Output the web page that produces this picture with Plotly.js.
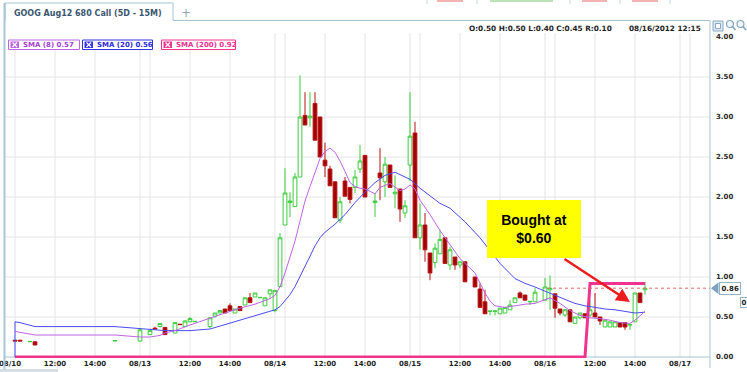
<!DOCTYPE html>
<html><head><meta charset="utf-8">
<script src="https://cdn.plot.ly/plotly-3.0.1.min.js"></script>
<style>html,body{margin:0;padding:0;background:#fff;}#chart{width:747px;height:372px;}</style>
</head><body><div id="chart"></div>
<script>
// ---------- data ----------
const chartTitle = 'GOOG Aug12 680 Call (5D - 15M)';
const days = ['08/10','08/13','08/14','08/15','08/16','08/17'];

const barTimes = [
'08/10 10:00','08/10 10:15','08/10 10:45','08/10 11:00','08/10 15:00',
'08/13 09:30','08/13 10:00','08/13 10:15','08/13 10:30','08/13 10:45','08/13 11:15','08/13 11:30','08/13 11:45','08/13 12:00','08/13 12:15',
'08/13 13:00','08/13 13:15','08/13 13:30','08/13 13:45','08/13 14:00','08/13 14:15','08/13 14:30','08/13 14:45','08/13 15:00','08/13 15:15','08/13 15:30','08/13 15:45','08/13 16:00',
'08/14 09:30','08/14 09:45','08/14 10:00','08/14 10:15','08/14 10:30','08/14 10:45','08/14 11:00','08/14 11:15','08/14 11:30','08/14 11:45','08/14 12:00','08/14 12:15','08/14 12:30',
'08/14 12:45','08/14 13:00','08/14 13:15','08/14 13:30','08/14 13:45','08/14 14:00','08/14 14:30','08/14 14:45','08/14 15:00','08/14 15:15','08/14 15:30','08/14 15:45','08/14 16:00',
'08/15 09:30','08/15 09:45','08/15 10:00','08/15 10:15','08/15 10:30','08/15 10:45','08/15 11:00','08/15 11:15','08/15 11:30','08/15 11:45','08/15 12:00','08/15 12:15',
'08/15 12:45','08/15 13:00','08/15 13:15','08/15 13:30','08/15 13:45','08/15 14:00','08/15 14:15','08/15 14:30','08/15 14:45','08/15 15:00','08/15 15:15','08/15 15:30','08/15 15:45',
'08/16 09:30','08/16 09:45','08/16 10:00','08/16 10:15','08/16 10:30','08/16 10:45','08/16 11:00','08/16 11:15','08/16 11:30','08/16 11:45','08/16 12:00','08/16 12:15',
'08/16 12:30','08/16 12:45','08/16 13:00','08/16 13:15','08/16 13:30','08/16 13:45','08/16 14:00','08/16 14:15','08/16 14:30'
];
const openP = [
.21,.21,.19,.19,.20,
.20,.28,.36,.38,.37,.30,.41,.38,.44,.44,.38,.51,.55,.60,.64,.55,.63,.65,.74,.75,.74,.64,.79,
.58,.88,1.65,1.93,1.88,2.25,3.02,2.99,3.17,3.00,2.46,2.35,2.19,1.71,2.20,2.12,2.12,2.35,2.52,1.93,2.30,2.19,2.40,2.04,2.10,1.80,
2.40,2.80,1.49,1.65,1.30,1.18,1.29,1.49,1.15,1.25,1.15,1.19,1.00,.85,.69,.57,.57,.54,.55,.59,.68,.80,.775,.69,.69,
.71,.84,.79,.60,.525,.59,.42,.49,.54,.525,.55,.50,.375,.375,.375,.43,.43,.40,.44,.80,.84
];
const highP = [
.21,.21,.195,.19,.205,
.36,.33,.38,.42,.37,.43,.41,.46,.50,.445,.50,.55,.59,.60,.67,.60,.63,.74,.80,.80,.745,.74,.84,
.84,1.55,2.36,2.06,2.30,3.52,3.31,3.31,3.31,3.00,2.68,2.39,2.19,2.00,2.25,2.12,2.34,2.65,2.52,2.05,2.61,2.50,2.40,2.27,2.10,1.96,
3.31,2.94,1.92,1.80,1.30,1.42,1.59,1.49,1.38,1.25,1.19,1.19,1.00,.92,.84,.575,.575,.61,.62,.71,.74,.82,.775,.695,.86,
.99,1.02,.79,.60,.60,.59,.50,.55,.54,.71,.80,.50,.46,.44,.44,.43,.43,.405,.80,.80,.94
];
const lowP = [
.20,.20,.19,.15,.20,
.19,.28,.35,.37,.28,.30,.40,.38,.44,.44,.36,.49,.55,.55,.58,.55,.58,.65,.68,.75,.74,.64,.74,
.56,.88,1.65,1.75,1.88,2.25,2.90,2.88,2.71,2.50,2.25,2.14,1.74,1.675,2.01,1.92,2.05,2.30,2.00,1.75,1.96,2.00,2.12,1.86,1.69,1.74,
2.20,1.49,1.34,1.19,.96,1.11,1.29,1.17,1.09,1.09,1.11,.94,.875,.62,.54,.52,.52,.54,.55,.59,.68,.74,.71,.65,.69,
.71,.59,.49,.52,.50,.44,.42,.47,.49,.50,.50,.40,.375,.375,.375,.375,.34,.34,.44,.675,.78
];
const closeP = [
.20,.20,.195,.15,.205,
.34,.33,.35,.42,.28,.43,.405,.45,.48,.445,.49,.55,.58,.55,.58,.60,.58,.74,.68,.80,.745,.74,.84,
.83,1.49,2.05,1.95,2.25,3.00,2.90,3.01,2.71,2.50,2.39,2.14,1.74,1.94,2.01,1.97,2.25,2.45,2.00,1.95,2.24,2.41,2.12,2.06,1.85,1.89,
2.76,1.49,1.65,1.34,1.05,1.36,1.47,1.17,1.34,1.15,1.19,.94,.875,.62,.54,.575,.575,.61,.62,.65,.74,.74,.71,.695,.81,
.875,.86,.61,.55,.59,.44,.50,.55,.49,.59,.50,.45,.46,.44,.44,.375,.375,.405,.80,.68,.86
];

const sma8Times = ['08/10 10:00','08/10 10:15','08/10 11:00','08/10 15:00','08/13 09:30','08/13 10:00','08/13 10:30','08/13 10:45','08/13 11:15','08/13 12:00','08/13 13:00','08/13 13:45','08/13 14:30','08/13 15:15','08/13 16:00',
'08/14 09:30','08/14 09:45','08/14 10:00','08/14 10:15','08/14 10:30','08/14 10:45','08/14 11:00','08/14 11:15','08/14 11:30','08/14 11:45','08/14 12:00','08/14 12:15','08/14 12:30','08/14 12:45','08/14 13:00','08/14 13:15','08/14 13:30','08/14 13:45','08/14 14:00','08/14 14:30','08/14 14:45','08/14 15:15','08/14 15:45','08/14 16:00',
'08/15 09:30','08/15 09:45','08/15 10:00','08/15 10:30','08/15 11:00','08/15 11:30','08/15 12:00','08/15 12:45','08/15 13:15','08/15 13:30','08/15 13:45','08/15 14:15','08/15 14:45','08/15 15:15','08/15 15:45',
'08/16 09:30','08/16 09:45','08/16 10:15','08/16 10:45','08/16 11:15','08/16 11:45','08/16 12:15','08/16 12:45','08/16 13:15','08/16 13:45','08/16 14:00','08/16 14:15','08/16 14:30'];
const sma8Vals = [0.32,0.31,0.275,0.275,0.25,0.25,0.27,0.30,0.33,0.40,0.49,0.55,0.61,0.66,0.73,
0.77,0.88,1.05,1.25,1.45,1.70,1.95,2.13,2.32,2.48,2.57,2.61,2.56,2.45,2.32,2.18,2.13,2.11,2.10,2.04,2.12,2.17,2.08,2.10,
2.15,2.10,1.96,1.78,1.58,1.40,1.23,1.05,0.80,0.70,0.64,0.62,0.64,0.66,0.67,
0.72,0.74,0.67,0.58,0.52,0.49,0.48,0.46,0.43,0.42,0.46,0.51,0.57];

const sma20Times = ['08/10 10:00','08/10 10:00','08/10 10:15','08/10 11:00','08/10 15:00','08/13 09:30','08/13 10:00','08/13 10:45','08/13 12:00','08/13 13:00','08/13 14:30','08/13 15:15','08/13 16:00',
'08/14 09:30','08/14 09:45','08/14 10:00','08/14 10:15','08/14 10:30','08/14 10:45','08/14 11:00','08/14 11:15','08/14 11:30','08/14 11:45','08/14 12:00','08/14 12:30','08/14 13:00','08/14 13:30','08/14 14:00','08/14 14:30','08/14 15:00','08/14 15:30','08/14 16:00',
'08/15 09:30','08/15 10:00','08/15 10:30','08/15 11:00','08/15 11:30','08/15 12:00','08/15 12:15','08/15 13:00','08/15 13:30','08/15 14:00','08/15 14:45','08/15 15:15','08/15 15:45',
'08/16 09:30','08/16 10:00','08/16 10:30','08/16 11:00','08/16 11:30','08/16 12:00','08/16 12:30','08/16 13:00','08/16 13:30','08/16 14:00','08/16 14:30'];
const sma20Vals = [0,0.44,0.43,0.38,0.38,0.36,0.345,0.33,0.33,0.35,0.46,0.52,0.57,
0.59,0.63,0.70,0.78,0.88,1.00,1.13,1.26,1.39,1.49,1.56,1.66,1.78,1.93,2.06,2.18,2.27,2.31,2.25,
2.22,2.11,2.02,1.92,1.86,1.75,1.69,1.49,1.33,1.17,0.98,0.92,0.875,
0.82,0.77,0.72,0.67,0.64,0.62,0.60,0.59,0.57,0.55,0.56];

const sma200Times = ['08/10 10:00','08/16 11:30','08/16 11:45','08/16 14:30'];
const sma200Vals = [0,0,0.92,0.92];

const tickTimes = ['08/10 09:45','08/10 12:00','08/10 14:00','08/13 09:30','08/13 12:00','08/13 14:00','08/14 09:30','08/14 12:00','08/14 14:00','08/15 09:30','08/15 12:00','08/15 14:00','08/16 09:30','08/16 12:00','08/16 14:00','08/17 09:30'];
const tickText = ['08/10','12:00','14:00','08/13','12:00','14:00','08/14','12:00','14:00','08/15','12:00','14:00','08/16','12:00','14:00','08/17'];
const gridTimes = ['08/10 10:00','08/10 12:00','08/10 14:00','08/13 09:30','08/13 10:00','08/13 12:00','08/13 14:00','08/14 09:30','08/14 10:00','08/14 12:00','08/14 14:00','08/15 09:30','08/15 10:00','08/15 12:00','08/15 14:00','08/16 09:30','08/16 10:00','08/16 12:00','08/16 14:00','08/17 09:30','08/17 10:00'];
const yTicks = [0,0.5,1,1.5,2,2.5,3,3.5,4];
const hGrid = [0.5,1,1.5,2,2.5,3,3.5];
const infoTime = '08/16 12:15';
const infoDate = '08/16/2012 12:15';
const lastPrice = 0.86;
const edgeTagText = '0';
const noteLines = ['Bought at','$0.60'];

// ---------- helpers ----------
function slot(t){
  const parts = t.split(' ');
  const hm = parts[1].split(':').map(Number);
  return 27*days.indexOf(parts[0]) + (hm[0]*60 + hm[1] - 570)/15;
}
const L=5, R=710, T=33, B=358;
const px = p => (p-L)/(R-L);
const py = p => (B-p)/(B-T);
const FONT = 'DejaVu Sans, Verdana, sans-serif';

const cPurple='#c063e6', cBlue='#4a4cf0', cPink='#f0338f';

// ---------- traces ----------
const traces = [
 {type:'scatter', mode:'lines', x:sma200Times.map(slot), y:sma200Vals, line:{color:cPink,width:3}, hoverinfo:'skip'},
 {type:'candlestick', x:barTimes.map(slot), open:openP, high:highP, low:lowP, close:closeP,
  increasing:{line:{color:'#3ccc3c',width:1}, fillcolor:'#ffffff'},
  decreasing:{line:{color:'#b51212',width:1}, fillcolor:'#a30000'},
  whiskerwidth:0, hoverinfo:'none'},
 {type:'scatter', mode:'lines', x:sma20Times.map(slot), y:sma20Vals, line:{color:cBlue,width:1}, hoverinfo:'skip'},
 {type:'scatter', mode:'lines', x:sma8Times.map(slot), y:sma8Vals, line:{color:cPurple,width:1}, hoverinfo:'skip'}
];

// ---------- shapes ----------
const shapes = [];
gridTimes.forEach(t => shapes.push({type:'line', xref:'x', yref:'paper', x0:slot(t), x1:slot(t), y0:0, y1:1, line:{color:'#e4e4e4',width:1}, layer:'below'}));
hGrid.forEach(v => shapes.push({type:'line', xref:'paper', yref:'y', x0:0, x1:1, y0:v, y1:v, line:{color:'#e6e6e6',width:1}, layer:'below'}));
shapes.push({type:'rect', xref:'paper', yref:'paper', x0:px(5), x1:px(240), y0:py(50), y1:py(33), fillcolor:'#ffffff', line:{width:0}, layer:'below'});
const bcol = '#a7c2d4';
shapes.push({type:'line', xref:'paper', yref:'paper', x0:px(173), x1:px(710), y0:py(20.5), y1:py(20.5), line:{color:bcol,width:1}});
shapes.push({type:'line', xref:'paper', yref:'paper', x0:1, x1:1, y0:py(20.5), y1:py(368), line:{color:bcol,width:1}});
shapes.push({type:'line', xref:'paper', yref:'y', x0:0, x1:1, y0:0, y1:0, line:{color:bcol,width:1}, layer:'below'});
shapes.push({type:'line', xref:'paper', yref:'paper', x0:px(4.5), x1:px(4.5), y0:py(3), y1:py(372), line:{color:'#a6c8d6',width:2}});
shapes.push({type:'path', xref:'paper', yref:'paper', path:`M ${px(5)} ${py(20.5)} L ${px(5)} ${py(3)} L ${px(173)} ${py(3)} L ${px(173)} ${py(20.5)}`, line:{color:bcol,width:1}});
shapes.push({type:'rect', xref:'paper', yref:'paper', x0:px(0), x1:px(58), y0:py(372), y1:py(369), fillcolor:'#d5dde4', line:{width:0}});
[427,477,570,620,670].forEach(p => shapes.push({type:'line', xref:'paper', yref:'paper', x0:px(p), x1:px(p), y0:py(0), y1:py(4), line:{color:'#c9d6de',width:1}}));
[[437,463,'#f19a9a'],[490,553,'#9fdc9f'],[582,607,'#f19a9a'],[632,658,'#f19a9a']].forEach(s => shapes.push({type:'line', xref:'paper', yref:'paper', x0:px(s[0]), x1:px(s[1]), y0:py(1), y1:py(1), line:{color:s[2],width:1.5}}));
const icol = '#87a9c3';
shapes.push({type:'rect', xref:'paper', yref:'paper', x0:px(713), x1:px(723), y0:py(31), y1:py(21), line:{color:icol,width:1}, fillcolor:'#dde8f1'});
shapes.push({type:'rect', xref:'paper', yref:'paper', x0:px(715.5), x1:px(720.5), y0:py(28.5), y1:py(23.5), line:{color:icol,width:1}, fillcolor:'#ffffff'});
[[730,24],[740.5,24]].forEach(c => {
  shapes.push({type:'circle', xref:'paper', yref:'paper', x0:px(c[0]-3.5), x1:px(c[0]+3.5), y0:py(c[1]+3.5), y1:py(c[1]-3.5), line:{color:icol,width:1.2}, fillcolor:'#eef4f9'});
  shapes.push({type:'line', xref:'paper', yref:'paper', x0:px(c[0]+2.5), x1:px(c[0]+5.5), y0:py(c[1]+2.5), y1:py(c[1]+6), line:{color:icol,width:1.8}});
});
const chips = [
  {x0:8.5, x1:79.5, col:cPurple, tcol:'#a43fd0', label:'SMA (8) '+sma8Vals[sma8Vals.length-1].toFixed(2)},
  {x0:82.5, x1:152.5, col:'#3434e6', tcol:'#2a2ad8', label:'SMA (20) '+sma20Vals[sma20Vals.length-1].toFixed(2)},
  {x0:161.5, x1:235.5, col:cPink, tcol:'#ea2f8c', label:'SMA (200) '+sma200Vals[sma200Vals.length-1].toFixed(2)}
];
chips.forEach(c => {
  shapes.push({type:'rect', xref:'paper', yref:'paper', x0:px(c.x0), x1:px(c.x1), y0:py(49.5), y1:py(40), line:{color:c.col,width:1}, fillcolor:'#ffffff'});
  shapes.push({type:'rect', xref:'paper', yref:'paper', x0:px(c.x0+2), x1:px(c.x0+10.5), y0:py(48), y1:py(41.5), line:{width:0}, fillcolor:c.col});
  shapes.push({type:'line', xref:'paper', yref:'paper', x0:px(c.x0+4), x1:px(c.x0+8.5), y0:py(47), y1:py(42.5), line:{color:'#ffffff',width:1.3}});
  shapes.push({type:'line', xref:'paper', yref:'paper', x0:px(c.x0+4), x1:px(c.x0+8.5), y0:py(42.5), y1:py(47), line:{color:'#ffffff',width:1.3}});
});
shapes.push({type:'line', xref:'paper', yref:'y', x0:px(547), x1:1, y0:lastPrice, y1:lastPrice, line:{color:'#e46a6a',width:1,dash:'dot'}});
shapes.push({type:'path', xref:'paper', yref:'y', path:`M ${px(711)} ${lastPrice} L ${px(718.5)} ${lastPrice+0.075} L ${px(718.5)} ${lastPrice-0.075} Z`, fillcolor:'#7fa2be', line:{width:0}});

// ---------- annotations ----------
const ann = [];
ann.push({xref:'paper', yref:'paper', x:px(12), y:py(13), xanchor:'left', yanchor:'middle', showarrow:false, text:'<b>'+chartTitle+'</b>', font:{family:FONT,size:8,color:'#3b566f'}});
ann.push({xref:'paper', yref:'paper', x:px(186), y:py(13.5), xanchor:'center', yanchor:'middle', showarrow:false, text:'+', font:{family:FONT,size:12,color:'#8ea7ba'}});
const iB = barTimes.indexOf(infoTime);
const infoTxt = 'O:'+openP[iB].toFixed(2)+' H:'+highP[iB].toFixed(2)+' L:'+lowP[iB].toFixed(2)+' C:'+closeP[iB].toFixed(2)+' R:'+(highP[iB]-lowP[iB]).toFixed(2);
ann.push({xref:'paper', yref:'paper', x:px(614), y:py(28), xanchor:'right', yanchor:'middle', showarrow:false, text:'<b>'+infoTxt+'</b>', font:{family:FONT,size:7.3,color:'#1e1e1e'}});
ann.push({xref:'paper', yref:'paper', x:px(703), y:py(28), xanchor:'right', yanchor:'middle', showarrow:false, text:'<b>'+infoDate+'</b>', font:{family:FONT,size:7.3,color:'#1e1e1e'}});
chips.forEach(c => ann.push({xref:'paper', yref:'paper', x:px(c.x0+12.5), y:py(44.8), xanchor:'left', yanchor:'middle', showarrow:false, text:'<b>'+c.label+'</b>', font:{family:FONT,size:7,color:c.tcol}}));
ann.push({xref:'paper', yref:'paper', x:px(534), y:py(229), xanchor:'center', yanchor:'middle', showarrow:false,
  text:'<b>'+noteLines.join('</b><br><b>')+'</b>', width:94, height:58, bgcolor:'#ffff00', borderpad:0, borderwidth:0,
  font:{family:'Liberation Sans, Arial, sans-serif', size:14, color:'#000'}});
ann.push({xref:'paper', yref:'paper', x:px(630), y:py(302), ax:-67, ay:-44, showarrow:true, text:'', arrowhead:2, arrowsize:1.1, arrowwidth:2.5, arrowcolor:'#ec1c1c'});
ann.push({xref:'paper', yref:'y', x:px(718.5), y:lastPrice, xanchor:'left', yanchor:'middle', showarrow:false, text:'<b>'+lastPrice.toFixed(2)+'</b>',
  bordercolor:'#93b3c9', borderwidth:1, borderpad:1.5, bgcolor:'#ffffff', font:{family:FONT,size:7,color:'#222'}});
ann.push({xref:'paper', yref:'paper', x:px(740), y:py(302), xanchor:'left', yanchor:'middle', showarrow:false, text:'<b>'+edgeTagText+'</b>',
  bordercolor:'#93b3c9', borderwidth:1, borderpad:0.5, bgcolor:'#ffffff', font:{family:FONT,size:7,color:'#222'}});

const layout = {
  width:747, height:372,
  margin:{l:L, r:747-R, t:T, b:372-B, pad:0},
  paper_bgcolor:'#ffffff', plot_bgcolor:'#ffffff',
  showlegend:false, boxgap:0.25, boxgroupgap:0,
  xaxis:{range:[0,141], tickmode:'array', tickvals:tickTimes.map(slot), ticktext:tickText, showgrid:false, zeroline:false, showline:false, ticks:'',
    ticklabeloverflow:'allow',
    tickfont:{family:FONT,size:7,color:'#1e1e1e',weight:'bold'}, rangeslider:{visible:false}, fixedrange:true},
  yaxis:{side:'right', range:[-0.0125,4.05], tickmode:'array', tickvals:yTicks, ticktext:yTicks.map(v=>v.toFixed(2)), showgrid:false, zeroline:false, showline:false, ticks:'',
    tickfont:{family:FONT,size:7,color:'#2a2a2a',weight:'bold'}, ticklabelstandoff:5, fixedrange:true},
  shapes:shapes, annotations:ann
};
Plotly.newPlot('chart', traces, layout, {staticPlot:true, displayModeBar:false});
</script></body></html>
